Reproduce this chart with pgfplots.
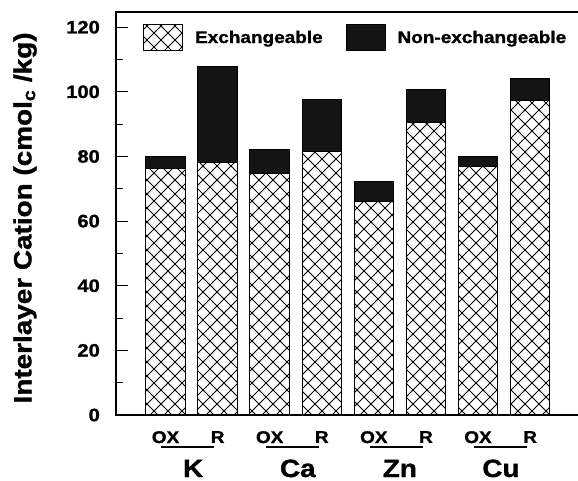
\documentclass[border=0pt]{standalone}
\usepackage{fontspec}
\setmainfont{Liberation Sans}[FakeStretch=1.12, BoldFeatures={FakeBold=1.3}]
\usepackage{pgfplots}
\pgfplotsset{compat=1.18}
\usetikzlibrary{patterns.meta}
\pgfdeclarepattern{
  name=xhatch,
  type=uncolored,
  bottom left={\pgfpoint{-1bp}{-1bp}},
  top right={\pgfpoint{15bp}{15bp}},
  tile size={\pgfpoint{14bp}{14bp}},
  code={
    \pgfsetlinewidth{1bp}
    \pgfpathmoveto{\pgfpoint{0bp}{0bp}}\pgfpathlineto{\pgfpoint{14bp}{14bp}}
    \pgfpathmoveto{\pgfpoint{0bp}{14bp}}\pgfpathlineto{\pgfpoint{14bp}{0bp}}
    \pgfusepath{stroke}
  }
}
\begin{document}
\begin{tikzpicture}
\begin{axis}[
  name=ax,
  at={(0,0)}, anchor=south west,
  scale only axis,
  width=462bp, height=403bp,
  xmin=-0.951, xmax=7.92,
  ymin=0, ymax=124.7,
  ybar stacked,
  bar width=39.5bp,
  axis line style={draw=none},
  xtick={0,...,7},
  xticklabels={OX,R,OX,R,OX,R,OX,R},
  x tick style={draw=none},
  ytick={0,20,...,120},
  minor y tick num=1,
  ytick pos=left,
  tick align=inside,
  major tick length=12bp,
  minor tick length=7bp,
  y tick style={line width=0.9bp, black},
  /pgf/number format/assume math mode=true,
  yticklabel style={font=\fontsize{18}{18}\selectfont\bfseries, anchor=east, inner sep=0pt, xshift=-16bp},
  xticklabel style={font=\fontsize{17}{17}\selectfont\bfseries, anchor=north, inner sep=0pt, yshift=-16bp},
  ylabel={Interlayer Cation (cmol\textsubscript{c} /kg)},
  ylabel style={font=\fontsize{25}{25}\selectfont\bfseries, at={(axis description cs:-0.197,0.489)}, anchor=center},
  clip=false,
  legend columns=2,
  legend style={at={(axis description cs:0,1)}, anchor=north west, xshift=27bp, yshift=-12bp,
    draw=none, fill=none, inner sep=0pt, font=\fontsize{17}{17}\selectfont\bfseries,
    nodes={inner sep=0pt},
    /tikz/every odd column/.style={column sep=12bp},
    /tikz/every even column/.style={column sep=23bp}},
  legend image code/.code={\draw[#1] (0bp,-13bp) rectangle (39bp,13bp);},
]
\addplot[draw=black, line width=0.9bp, pattern=xhatch, pattern color=black] coordinates {
  (0,76.2) (1,78.1) (2,74.8) (3,81.5) (4,66.0) (5,90.6) (6,77.0) (7,97.4)};
\addlegendentry{Exchangeable}
\addplot[draw=black, line width=0.9bp, fill=black!92] coordinates {
  (0,3.7) (1,29.8) (2,7.4) (3,16.2) (4,6.2) (5,10.0) (6,3.1) (7,6.8)};
\addlegendentry{Non-exchangeable}
\draw[line width=1.1bp] ([yshift=-32bp]axis cs:-0.08,0) -- ([yshift=-32bp]axis cs:0.94,0);
\draw[line width=1.1bp] ([yshift=-32bp]axis cs:1.92,0) -- ([yshift=-32bp]axis cs:2.94,0);
\draw[line width=1.1bp] ([yshift=-32bp]axis cs:3.92,0) -- ([yshift=-32bp]axis cs:4.94,0);
\draw[line width=1.1bp] ([yshift=-32bp]axis cs:5.92,0) -- ([yshift=-32bp]axis cs:6.94,0);
\node[anchor=base, font=\fontsize{25}{25}\selectfont\bfseries] at ([yshift=-62bp]axis cs:0.53,0) {K};
\node[anchor=base, font=\fontsize{25}{25}\selectfont\bfseries] at ([yshift=-62bp]axis cs:2.54,0) {Ca};
\node[anchor=base, font=\fontsize{25}{25}\selectfont\bfseries] at ([yshift=-62bp]axis cs:4.50,0) {Zn};
\node[anchor=base, font=\fontsize{25}{25}\selectfont\bfseries] at ([yshift=-62bp]axis cs:6.44,0) {Cu};
\end{axis}
\draw[line width=1.3bp] (ax.north east) -- (ax.north west) -- (ax.south west) -- (ax.south east);
\pgfresetboundingbox
\path[use as bounding box] (-116bp,-66bp) rectangle (462bp,415bp);
\end{tikzpicture}
\end{document}
